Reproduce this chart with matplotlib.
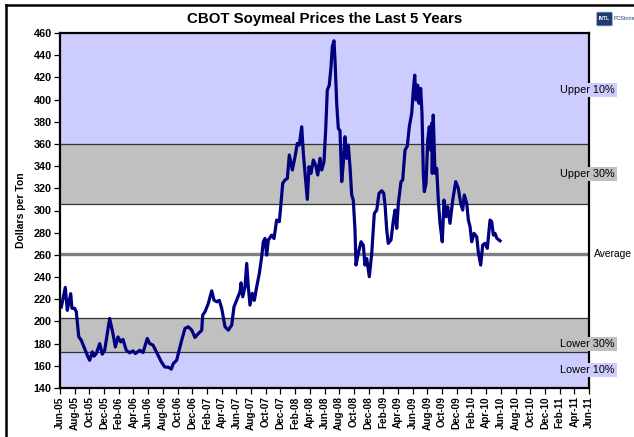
import matplotlib
matplotlib.use("Agg")
import matplotlib.pyplot as plt
from matplotlib.lines import Line2D
from matplotlib.patches import FancyBboxPatch

plt.rcParams['font.family'] = ['Liberation Sans', 'DejaVu Sans']

# ---- data (months since Jun-2005, price $/ton) ----
months = [0.18, 0.72, 0.99, 1.46, 1.63, 2.0, 2.22, 2.55, 2.9, 3.27, 3.81, 4.04, 4.4, 4.63, 4.94,
          5.4, 5.76, 6.08, 6.76, 7.21, 7.53, 7.89, 8.26, 8.57, 9.02, 9.49, 9.94, 10.25, 10.85,
          11.3, 11.88, 12.21, 12.66, 13.11, 13.79, 14.25, 14.8, 15.15, 15.42, 15.88, 16.1,
          16.56, 17.01, 17.46, 17.93, 18.37, 18.82, 19.29, 19.42, 19.74, 20.19, 20.65, 20.96,
          21.33, 21.68, 22.01, 22.46, 22.91, 23.37, 23.68, 24.05, 24.5, 24.64, 24.87, 25.18,
          25.41, 25.63, 25.86, 26.17, 26.45, 26.77, 27.13, 27.45, 27.67, 27.9, 28.13, 28.35,
          28.81, 29.13, 29.49, 29.85, 30.08, 30.31, 30.62, 30.94, 31.21, 31.62, 31.99, 32.3,
          32.57, 32.9, 33.12, 33.35, 33.66, 33.89, 34.16, 34.48, 34.8, 35.08, 35.39, 35.62,
          35.93, 36.16, 36.38, 36.65, 36.89, 37.06, 37.29, 37.43, 37.66, 37.88, 38.11, 38.34,
          38.56, 38.79, 39.02, 39.24, 39.47, 39.7, 39.92, 40.15, 40.29, 40.6, 40.97, 41.28,
          41.51, 41.74, 42.1, 42.43, 42.78, 43.11, 43.42, 43.79, 44.06, 44.24, 44.47, 44.68,
          45.05, 45.37, 45.6, 45.83, 46.05, 46.41, 46.64, 46.96, 47.27, 47.54, 47.87, 48.09,
          48.28, 48.45, 48.68, 48.86, 49.09, 49.27, 49.45, 49.59, 49.82, 50.05, 50.27, 50.45,
          50.59, 50.67, 50.8, 51.04, 51.27, 51.49, 51.72, 52.03, 52.27, 52.54, 52.77, 53.08,
          53.45, 53.86, 54.21, 54.54, 54.81, 55.03, 55.36, 55.58, 55.81, 56.04, 56.35, 56.72,
          56.93, 57.26, 57.53, 57.85, 58.16, 58.53, 58.76, 58.98, 59.21, 59.46, 59.89]
prices = [213, 230.7, 210, 225, 211.8, 211.8, 208.7, 186.2, 183, 177, 168, 165, 172.6, 168.7, 171,
          180, 170.5, 174, 202.7, 189, 177, 186, 181.6, 183.8, 174, 171.7, 173.5, 171, 174,
          172, 184.7, 180, 178.7, 172.6, 163.6, 159, 158.6, 157, 162, 165, 171,
          183, 193.7, 195.2, 192.2, 185.6, 189, 192, 205.7, 208.7, 216.3, 227.6, 219.2,
          217.7, 219, 211.7, 195.2, 192.2, 196.7, 213.2, 219.2, 226.8, 234.8, 222.2, 231.2,
          252.3, 231, 214.7, 225.3, 219, 231.2, 243.3, 258.3, 271.8, 274.8, 259.8, 273.3,
          277.8, 274.8, 291.4, 289.9, 306.4, 324.5, 327.4, 329, 350, 336.5, 348.5, 360.5,
          359, 375.5, 351.5, 333.5, 310, 339.5, 333.5, 345.5, 341, 332, 347, 336.5,
          344, 372.5, 408.6, 413, 429.6, 447.6, 453, 435.7, 396.6, 374, 372, 326,
          342.5, 366.5, 347, 359, 339.5, 314, 309.4, 282.4, 250.8, 261.4, 271.8, 268.8,
          250.8, 256.8, 240.3, 261.4, 297.4, 300.4, 315.5, 317.8, 315.5, 305, 282.4, 270.4,
          273.4, 291, 300.4, 283.9, 306.4, 326, 327.4, 354.5, 358, 375.5, 387.6, 408.6,
          422, 399.6, 413, 396.6, 410, 387.6, 333.5, 317, 324.5, 363.5, 375.5, 354.5,
          378.6, 333.5, 386, 333.5, 338, 309.4, 288.4, 271.8, 309.4, 294.4, 303.4, 288.4,
          309.4, 326, 320, 306.4, 300.4, 314, 306.4, 291.4, 285.4, 271.8, 279.4, 276.3,
          262.8, 250.8, 268.8, 270.4, 265.9, 291.4, 289.9, 277.8, 279.4, 274.9, 272.7]

# band limits ($/ton)
lower10 = 172.5
lower30 = 203
average = 261
upper30 = 306
upper10 = 360
band_labels = ["Upper 10%", "Upper 30%", "Average", "Lower 30%", "Lower 10%"]
band_label_values = [409, 333, 261, 180, 156]

tick_labels = ["Jun-05", "Aug-05", "Oct-05", "Dec-05", "Feb-06", "Apr-06", "Jun-06", "Aug-06",
               "Oct-06", "Dec-06", "Feb-07", "Apr-07", "Jun-07", "Aug-07", "Oct-07", "Dec-07",
               "Feb-08", "Apr-08", "Jun-08", "Aug-08", "Oct-08", "Dec-08", "Feb-09", "Apr-09",
               "Jun-09", "Aug-09", "Oct-09", "Dec-09", "Feb-10", "Apr-10", "Jun-10", "Aug-10",
               "Oct-10", "Dec-10", "Feb-11", "Apr-11", "Jun-11"]
y_ticks = list(range(140, 461, 20))

LAV = '#CCCCFF'
GRAY = '#C0C0C0'

fig = plt.figure(figsize=(6.34, 4.37), dpi=100)
ax = fig.add_axes([60/634, 1-388/437, 529/634, 355/437])

ymin, ymax = 140, 460
ax.axhspan(ymin, lower10, color=LAV, zorder=0, lw=0)
ax.axhspan(lower10, lower30, color=GRAY, zorder=0, lw=0)
ax.axhspan(lower30, upper30, color='white', zorder=0, lw=0)
ax.axhspan(upper30, upper10, color=GRAY, zorder=0, lw=0)
ax.axhspan(upper10, ymax, color=LAV, zorder=0, lw=0)
for v in [lower10, lower30, upper30, upper10]:
    ax.axhline(v, color='#333333', lw=0.9, zorder=1)
ax.axhline(average, color='#808080', lw=2.4, zorder=1)

ax.plot(months, prices, color='#000080', lw=2.3, zorder=3, solid_joinstyle='round')

ax.set_xlim(0, 72)
ax.set_ylim(ymin, ymax)
ax.set_yticks(y_ticks)
ax.set_yticklabels([str(t) for t in y_ticks], fontsize=7.8, fontweight='bold')
ax.set_xticks(range(0, 73, 2))
ax.set_xticklabels(tick_labels, rotation=90, fontsize=7.2, fontweight='bold')
ax.tick_params(axis='both', direction='out', length=4, width=0.9, pad=2, colors='black')
for s in ax.spines.values():
    s.set_linewidth(1.6)
    s.set_color('black')
    s.set_zorder(4)
ax.set_ylabel('Dollars per Ton', fontsize=7.5, fontweight='bold', labelpad=5)

bcolors = [LAV, GRAY, 'white', GRAY, LAV]
for lab, val, bc in zip(band_labels, band_label_values, bcolors):
    is_avg = lab == "Average"
    xpos = 1.0 + (5 if is_avg else -29) / 529
    ax.text(xpos, val, lab, transform=ax.get_yaxis_transform(), ha='left', va='center',
            fontsize=7.4 if is_avg else 7.8, clip_on=False, zorder=6,
            bbox=dict(facecolor=bc, edgecolor='none', pad=1.0 if is_avg else 1.5))

fig.text(0.5 * (60 + 589) / 634, 1 - 19/437, 'CBOT Soymeal Prices the Last 5 Years',
         ha='center', va='center', fontsize=10.8, fontweight='bold')

# logo
fig.patches.append(FancyBboxPatch((598/634, 1-25/437), 13/634, 12/437, transform=fig.transFigure,
                                  boxstyle='round,pad=0.002', facecolor='#1f3a6e', edgecolor='#8899bb', lw=0.5))
fig.text(604.5/634, 1-19/437, 'INTL', color='white', fontsize=3.5, fontweight='bold', ha='center', va='center')
fig.text(613/634, 1-19/437, 'FCStone', color='#1f3a6e', fontsize=4, ha='left', va='center')

# outer frame
fig.add_artist(Line2D([6/634, 6/634], [0, 1-5/437], transform=fig.transFigure, color='black', lw=1.8))
fig.add_artist(Line2D([6/634, 1], [1-5/437, 1-5/437], transform=fig.transFigure, color='black', lw=1.8))

fig.savefig('out.png', dpi=100)
